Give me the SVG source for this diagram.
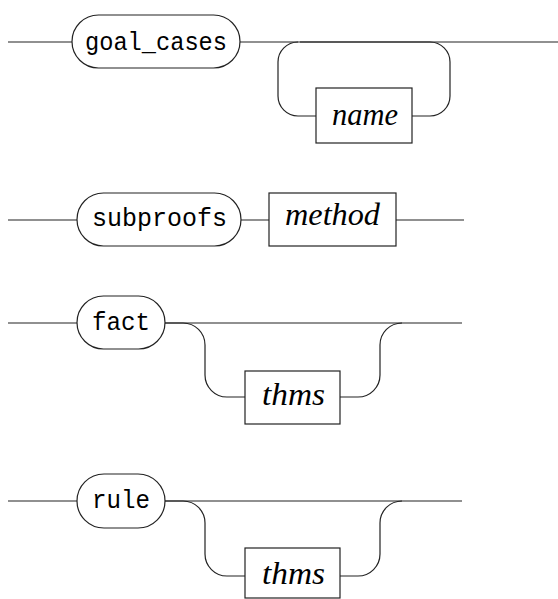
<svg xmlns="http://www.w3.org/2000/svg" width="558" height="599" viewBox="0 0 558 599">
<style>
.t{font-family:"Liberation Mono","DejaVu Sans Mono",monospace;font-size:26px;fill:#000}
.m{font-family:"Liberation Serif","DejaVu Serif",serif;font-style:italic;font-size:32px;fill:#000}
.n{fill:#fff;stroke:#222;stroke-width:1.2}
.c{fill:none;stroke:#222;stroke-width:1.2}
</style>
<rect width="558" height="599" fill="#fff"/>
<g id="connectors">
<path class="c" d="M8,42H72M240,42H558"/>
<path class="c" d="M300,42H430A20,20 0 0 1 450,62V96A20,20 0 0 1 430,116H412M316,116H298A20,20 0 0 1 278,96V62A20,20 0 0 1 298,42"/>
<path class="c" d="M8,220H77M241,220H269M396,220H464"/>
<path class="c" d="M8,323H77M165,323H462"/>
<path class="c" d="M165,323H183A22,22 0 0 1 205,345V375A22,22 0 0 0 227,397H245M340,397H358A22,22 0 0 0 380,375V345A22,22 0 0 1 402,323"/>
<path class="c" d="M8,501H77M165,501H462"/>
<path class="c" d="M165,501H183A22,22 0 0 1 205,523V554A22,22 0 0 0 227,576H245M340,576H358A22,22 0 0 0 380,554V523A22,22 0 0 1 402,501"/>
</g>
<g id="goal_cases"><rect class="n" x="72" y="15" width="168" height="53" rx="26.5"/><text class="t" x="85" y="50" textLength="142" lengthAdjust="spacingAndGlyphs">goal_cases</text></g>
<g id="name"><rect class="n" x="316" y="88" width="96" height="55"/><text class="m" x="332" y="125" textLength="66" lengthAdjust="spacingAndGlyphs">name</text></g>
<g id="subproofs"><rect class="n" x="77" y="193" width="164" height="53" rx="26.5"/><text class="t" x="92" y="226" textLength="135" lengthAdjust="spacingAndGlyphs">subproofs</text></g>
<g id="method"><rect class="n" x="269" y="193" width="127" height="53"/><text class="m" x="285" y="225" textLength="95" lengthAdjust="spacingAndGlyphs">method</text></g>
<g id="fact"><rect class="n" x="77" y="296" width="88" height="53" rx="26.5"/><text class="t" x="92" y="330" textLength="58" lengthAdjust="spacingAndGlyphs">fact</text></g>
<g id="thms1"><rect class="n" x="245" y="371" width="95" height="53"/><text class="m" x="262" y="405" textLength="63" lengthAdjust="spacingAndGlyphs">thms</text></g>
<g id="rule"><rect class="n" x="77" y="474" width="88" height="54" rx="27"/><text class="t" x="92" y="508" textLength="58" lengthAdjust="spacingAndGlyphs">rule</text></g>
<g id="thms2"><rect class="n" x="245" y="548" width="95" height="50"/><text class="m" x="262" y="584" textLength="63" lengthAdjust="spacingAndGlyphs">thms</text></g>
</svg>
